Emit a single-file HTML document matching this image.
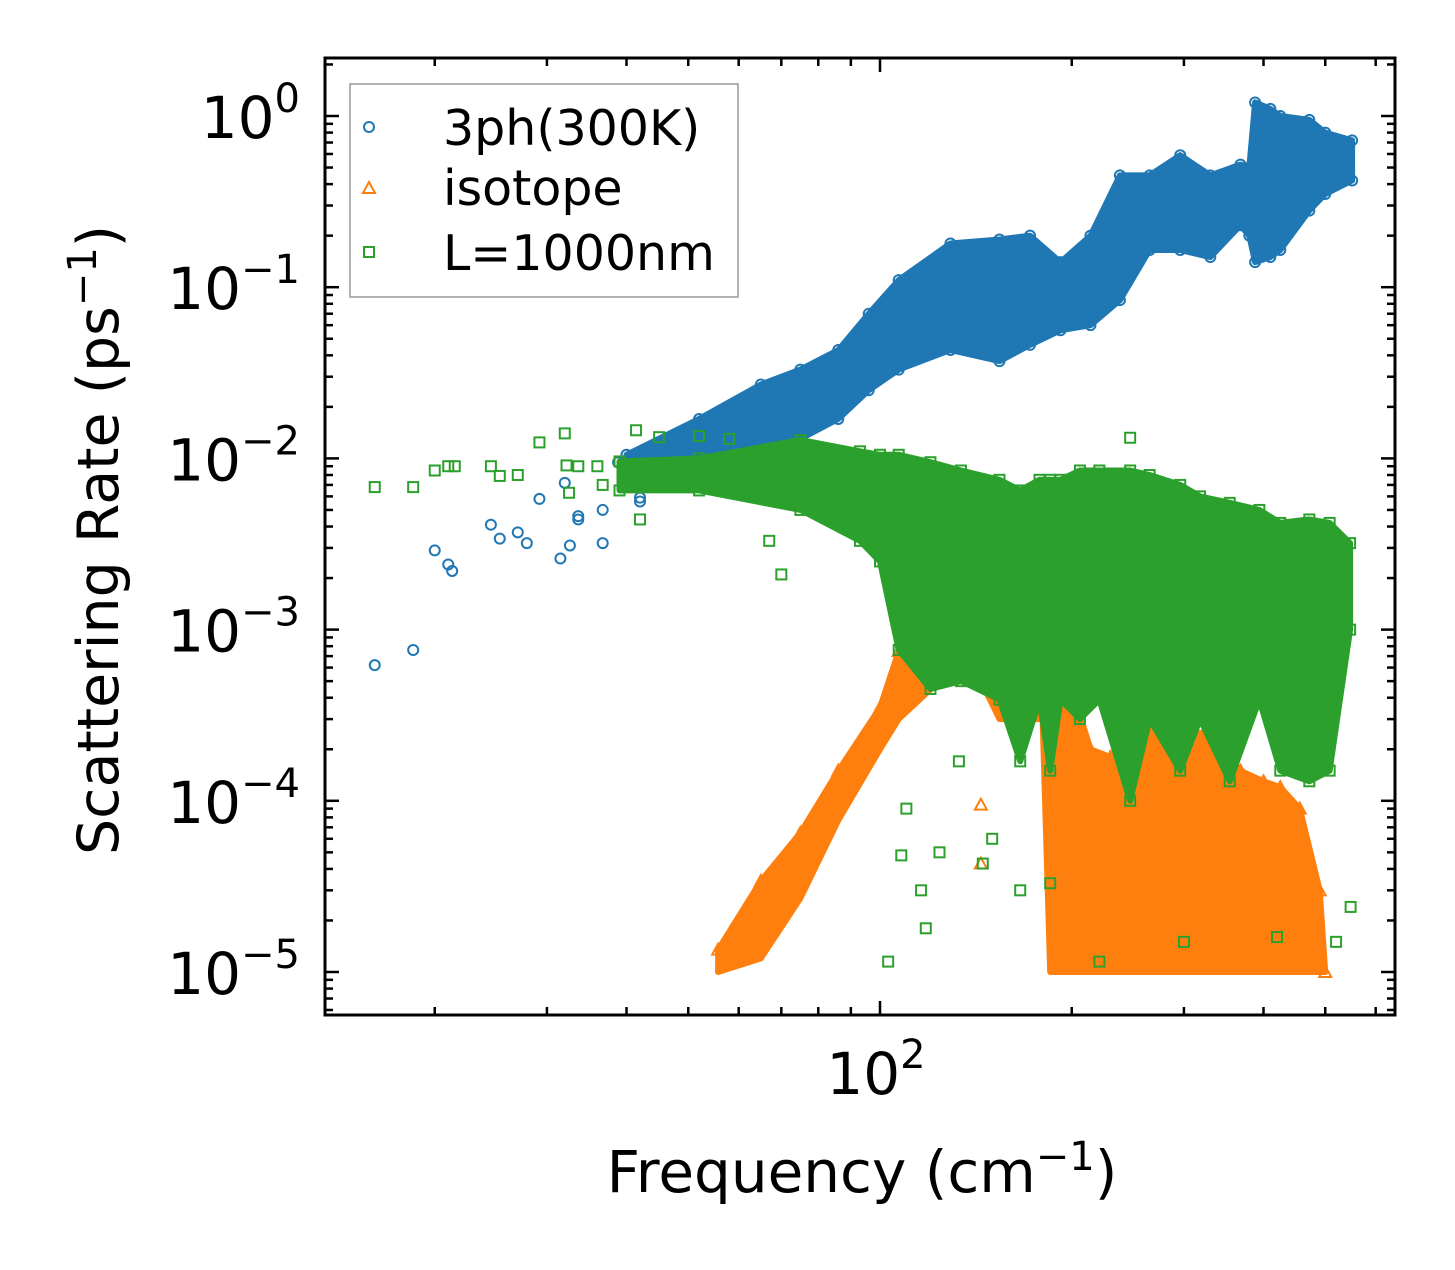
<!DOCTYPE html>
<html><head><meta charset="utf-8"><style>
body{margin:0;background:#fff}
svg text{font-family:"DejaVu Sans","Liberation Sans",sans-serif;fill:#000}
</style></head><body>
<svg id="chart" width="1455" height="1265" viewBox="0 0 1455 1265" xmlns="http://www.w3.org/2000/svg">
<rect width="1455" height="1265" fill="#fff"/>
<g id="marks"></g>
<g id="axes"></g>
<g id="legend">
<rect x="350" y="84" width="388" height="213" fill="#fff" stroke="#999" stroke-width="1.5"/>
<circle cx="369" cy="127" r="5" fill="none" stroke="#1f77b4" stroke-width="2"/>
<text x="443" y="145" font-size="49">3ph(300K)</text>
<path d="M369 182 L375 193 L363 193 Z" fill="none" stroke="#ff7f0e" stroke-width="2"/>
<text x="443" y="205" font-size="49">isotope</text>
<rect x="364" y="247" width="10" height="10" fill="none" stroke="#2ca02c" stroke-width="2"/>
<text x="443" y="270" font-size="49">L=1000nm</text>
</g>
<text x="862" y="1192" font-size="58" text-anchor="middle">Frequency (cm<tspan dy="-22" font-size="40">−1</tspan><tspan dy="22">)</tspan></text>
<text transform="translate(118,540) rotate(-90)" font-size="57" text-anchor="middle">Scattering Rate (ps<tspan dy="-22" font-size="40">−1</tspan><tspan dy="22">)</tspan></text>
</svg>
<script>
// ---- data (frequency in cm^-1, rate in ps^-1) ----
const blueFreq = [16.1,18.5,20,21,21.3,24.5,25.3,27,27.9,29.2,31.5,32,32.6,33.6,33.6,36.7,36.7,38.8,40.5,42,42,41];
const blueRate = [6.2e-4,7.6e-4,2.9e-3,2.4e-3,2.2e-3,4.1e-3,3.4e-3,3.7e-3,3.2e-3,5.8e-3,2.6e-3,7.2e-3,3.1e-3,4.6e-3,4.4e-3,5.0e-3,3.2e-3,9.5e-3,9.5e-3,5.9e-3,5.6e-3,8e-3];
const blueBandFreq = [40,52,65,75,86,96,107,129,154,172,192,214,238,265,296,330,368,380,388,410,425,472,500,551];
const blueBandLo = [9e-3,1.05e-2,1.1e-2,1.3e-2,1.7e-2,2.5e-2,3.3e-2,4.3e-2,3.7e-2,4.6e-2,5.6e-2,6e-2,8.4e-2,1.65e-1,1.65e-1,1.5e-1,2.3e-1,2.0e-1,1.4e-1,1.5e-1,1.65e-1,2.8e-1,3.5e-1,4.2e-1];
const blueBandHi = [1.05e-2,1.7e-2,2.7e-2,3.3e-2,4.3e-2,7e-2,1.1e-1,1.8e-1,1.9e-1,2e-1,1.4e-1,2e-1,4.5e-1,4.5e-1,5.9e-1,4.5e-1,5.2e-1,5.0e-1,1.2,1.1,1.0,9.5e-1,8e-1,7.2e-1];

const isoFreq = [144,144];
const isoRate = [9.5e-5,4.3e-5];
const isoBandFreq = [55.7,65,75,86,100,107,124,144,154,166,180,185,200,214,230,245,265,296,330,368,400,425,456,490,500];
const isoBandLo = [1e-5,1.2e-5,2.7e-5,7.7e-5,2e-4,3e-4,5e-4,5e-4,3e-4,3e-4,3e-4,1e-5,1e-5,1e-5,1e-5,1e-5,1e-5,1e-5,1e-5,1e-5,1e-5,1e-5,1e-5,1e-5,1e-5];
const isoBandHi = [1.35e-5,3.4e-5,6.5e-5,1.5e-4,3.5e-4,7.5e-4,1.1e-3,1.1e-3,1.1e-3,1e-3,9e-4,4.2e-4,4.5e-4,2e-4,1.8e-4,2.5e-4,3e-4,2.5e-4,2.5e-4,1.5e-4,1.3e-4,1.2e-4,9e-5,3e-5,1e-5];

const greenFreq = [16.1,18.5,20,21,21.5,24.5,25.3,27,29.2,32,32.2,32.5,33.6,36,36.7,41.4,42,45,52,58,67,70,103,108,110,116,118,124,133,145,166,185,221,247,150,300,420,520,548];
const greenRate = [6.8e-3,6.8e-3,8.5e-3,9e-3,9e-3,9e-3,7.9e-3,8e-3,1.24e-2,1.4e-2,9.1e-3,6.3e-3,9e-3,9e-3,7e-3,1.46e-2,4.4e-3,1.33e-2,1.35e-2,1.3e-2,3.3e-3,2.1e-3,1.15e-5,4.8e-5,9e-5,3e-5,1.8e-5,5e-5,1.7e-4,4.3e-5,3e-5,3.3e-5,1.15e-5,1.32e-2,6e-5,1.5e-5,1.6e-5,1.5e-5,2.4e-5];
const greenBandFreq = [39,52,75,93,100,107,120,134,154,166,178,185,192,206,221,247,265,296,318,354,394,425,472,508,547];
const greenBandLo = [6.5e-3,6.5e-3,5e-3,3.3e-3,2.5e-3,7.6e-4,4.5e-4,5e-4,3.9e-4,1.7e-4,3.9e-4,1.5e-4,3.9e-4,3e-4,3.9e-4,1e-4,3e-4,1.5e-4,3e-4,1.3e-4,3.9e-4,1.5e-4,1.3e-4,1.5e-4,1e-3];
const greenBandHi = [9.6e-3,1.0e-2,1.28e-2,1.1e-2,1.05e-2,1.05e-2,9.5e-3,8.5e-3,7.5e-3,6.5e-3,7.5e-3,7.5e-3,7.5e-3,8.5e-3,8.5e-3,8.5e-3,8e-3,7e-3,6e-3,5.5e-3,5e-3,4.2e-3,4.4e-3,4.2e-3,3.2e-3];

const xMajorTicks = [100];
const yMajorTicks = [0,-1,-2,-3,-4,-5];

// ---- axes ----
const L=325,R=1395,T=58,B=1015;
const sx = f => 880 + (Math.log10(f)-2)*637;
const sy = v => 116 - Math.log10(v)*171.2;
const NS="http://www.w3.org/2000/svg";
const marks=document.getElementById('marks');
const axes=document.getElementById('axes');
function mk(tag,attrs,parent){const e=document.createElementNS(NS,tag);for(const k in attrs)e.setAttribute(k,attrs[k]);parent.appendChild(e);return e;}
const clip=mk('clipPath',{id:'pc'},marks);mk('rect',{x:L,y:T,width:R-L,height:B-T},clip);
const g=mk('g',{'clip-path':'url(#pc)'},marks);

function band(fr,lo,hi,color,name){
  let d='';
  for(let i=0;i<fr.length;i++)d+=(i?'L':'M')+sx(fr[i]).toFixed(1)+' '+sy(hi[i]).toFixed(1);
  for(let i=fr.length-1;i>=0;i--)d+='L'+sx(fr[i]).toFixed(1)+' '+sy(lo[i]).toFixed(1);
  const p=mk('path',{d:d+'Z',fill:color,stroke:color,'stroke-width':6,'stroke-linejoin':'round'},g);
  
  
}
function circles(fr,v,color,name){
  for(let i=0;i<fr.length;i++){
    const c=mk('circle',{cx:sx(fr[i]),cy:sy(v[i]),r:5,fill:'none',stroke:color,'stroke-width':2},g);
    
    
  }
}
function squares(fr,v,color,name){
  for(let i=0;i<fr.length;i++){
    const c=mk('rect',{x:sx(fr[i])-5,y:sy(v[i])-5,width:10,height:10,fill:'none',stroke:color,'stroke-width':2},g);
    
    
  }
}
function triangles(fr,v,color,name){
  for(let i=0;i<fr.length;i++){
    const x=sx(fr[i]),y=sy(v[i]);
    const c=mk('path',{d:`M${x} ${y-6}L${x+6} ${y+5}L${x-6} ${y+5}Z`,fill:'none',stroke:color,'stroke-width':2},g);
    
    
  }
}
band(blueBandFreq,blueBandLo,blueBandHi,'#1f77b4','band-3ph');
circles(blueFreq,blueRate,'#1f77b4','point-3ph');
circles(blueBandFreq,blueBandHi,'#1f77b4','point-3ph');
circles(blueBandFreq,blueBandLo,'#1f77b4','point-3ph');
band(isoBandFreq,isoBandLo,isoBandHi,'#ff7f0e','band-isotope');
triangles(isoFreq,isoRate,'#ff7f0e','point-isotope');
triangles(isoBandFreq,isoBandHi,'#ff7f0e','point-isotope');
band(greenBandFreq,greenBandLo,greenBandHi,'#2ca02c','band-boundary');
squares(greenFreq,greenRate,'#2ca02c','point-boundary');
squares(greenBandFreq,greenBandHi,'#2ca02c','point-boundary');
squares(greenBandFreq,greenBandLo,'#2ca02c','point-boundary');

// frame
const fr=mk('rect',{x:L,y:T,width:R-L,height:B-T,fill:'none',stroke:'#000','stroke-width':3},axes);


// x ticks
for(let dec=1;dec<=2;dec++)for(let m=1;m<10;m++){
  const f=m*Math.pow(10,dec);const x=sx(f);if(x<L||x>R)continue;
  const len=m===1?14:8;
  mk('line',{x1:x,y1:B,x2:x,y2:B-len,stroke:'#000','stroke-width':2.5},axes);
  mk('line',{x1:x,y1:T,x2:x,y2:T+len,stroke:'#000','stroke-width':2.5},axes);
}
xMajorTicks.forEach(f=>{
  const t=mk('text',{x:sx(f)-4,y:1094,'font-size':58,'text-anchor':'middle'},axes);
  t.innerHTML='10<tspan dy="-26" font-size="40">'+Math.round(Math.log10(f))+'</tspan>';
  
  
});
// y ticks
for(let dec=-6;dec<=0;dec++)for(let m=1;m<10;m++){
  const v=m*Math.pow(10,dec);const y=sy(v);if(y<T||y>B)continue;
  const len=m===1?14:8;
  mk('line',{x1:L,y1:y,x2:L+len,y2:y,stroke:'#000','stroke-width':2.5},axes);
  mk('line',{x1:R,y1:y,x2:R-len,y2:y,stroke:'#000','stroke-width':2.5},axes);
}
yMajorTicks.forEach(e=>{
  const t=mk('text',{x:300,y:sy(Math.pow(10,e))+22,'font-size':58,'text-anchor':'end'},axes);
  t.innerHTML='10<tspan dy="-26" font-size="40">'+(e===0?'0':'−'+(-e))+'</tspan>';
  
  
});
</script>
</body></html>
